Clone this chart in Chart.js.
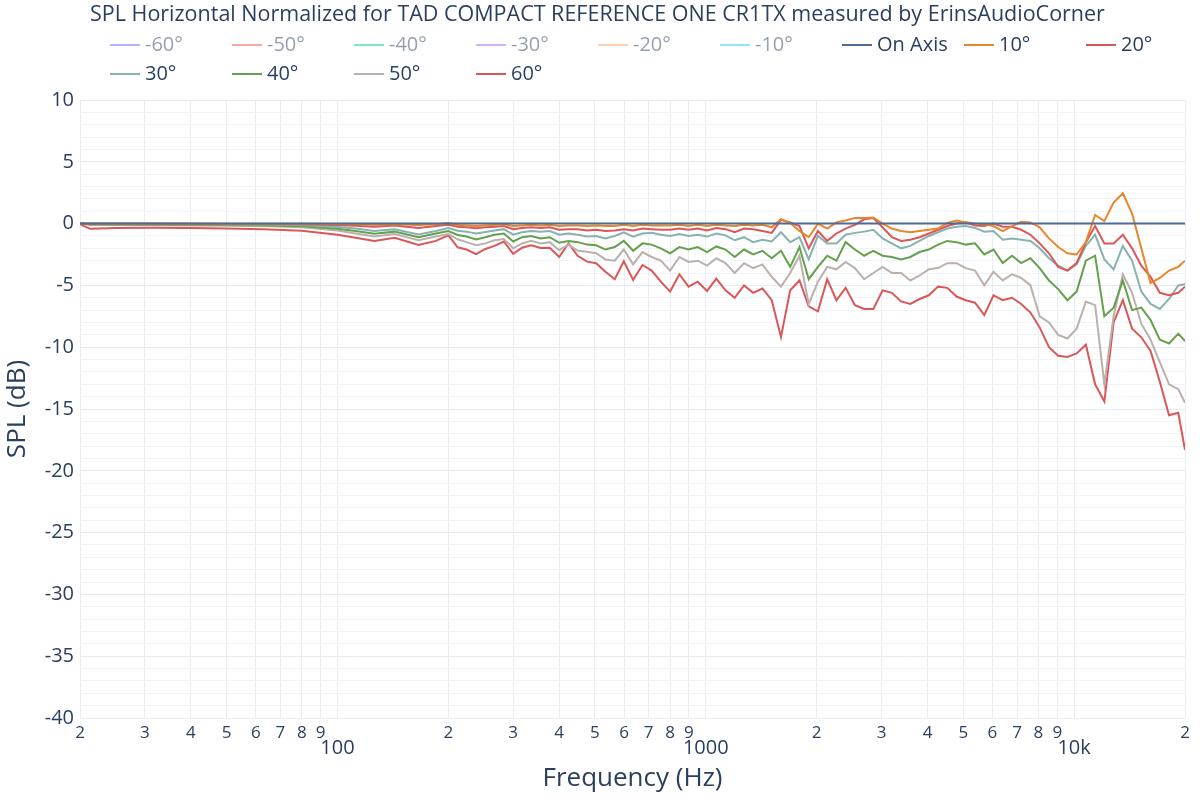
<!DOCTYPE html>
<html>
<head>
<meta charset="utf-8">
<script src="https://cdn.jsdelivr.net/npm/chart.js@4.4.0/dist/chart.umd.min.js"></script>
<style>
  html, body { margin: 0; padding: 0; background: #fff; }
  #wrap { width: 1200px; height: 800px; }
</style>
</head>
<body>
<div id="wrap"><canvas id="spl" width="1200" height="800"></canvas></div>
<script>
// frequencies (Hz) shared by every curve
const freqs = [20, 21.3, 25, 31.5, 40, 50, 63, 80, 100, 112, 126, 143, 166, 185,
  200, 212, 224, 238, 252, 267, 283, 300, 317, 336,
  356, 377, 400, 424, 449, 476, 504, 534, 566, 599,
  635, 673, 713, 755, 800, 848, 898, 951, 1008, 1068,
  1131, 1198, 1270, 1345, 1425, 1510, 1600, 1695, 1796, 1903,
  2016, 2136, 2263, 2397, 2540, 2691, 2851, 3020, 3200, 3390,
  3592, 3805, 4032, 4271, 4525, 4795, 5080, 5382, 5702, 6041,
  6400, 6781, 7184, 7611, 8063, 8543, 9051, 9589, 10159, 10763,
  11403, 12081, 12800, 13561, 14367, 15221, 16127, 17086, 18102, 19178, 20000];

const onAxis = [0, 0, 0, 0, 0, 0, 0, 0, 0, 0, 0, 0, 0, 0,
  0, 0, 0, 0, 0, 0, 0, 0, 0, 0,
  0, 0, 0, 0, 0, 0, 0, 0, 0, 0,
  0, 0, 0, 0, 0, 0, 0, 0, 0, 0,
  0, 0, 0, 0, 0, 0, 0, 0, 0, 0,
  0, 0, 0, 0, 0, 0, 0, 0, 0, 0,
  0, 0, 0, 0, 0, 0, 0, 0, 0, 0,
  0, 0, 0, 0, 0, 0, 0, 0, 0, 0,
  0, 0, 0, 0, 0, 0, 0, 0, 0, 0, 0];

const deg10 = [0, 0, 0, 0, 0, -0.01, -0.01, -0.02, -0.04, -0.06, -0.1, -0.05, -0.12, -0.05,
  0.05, -0.12, -0.15, -0.2, -0.15, -0.1, -0.05, -0.2, -0.15, -0.1,
  -0.15, -0.1, -0.2, -0.15, -0.15, -0.2, -0.15, -0.2, -0.2, -0.1,
  -0.2, -0.1, -0.15, -0.15, -0.15, -0.1, -0.2, -0.1, -0.2, -0.1,
  -0.15, -0.2, -0.1, -0.15, -0.1, -0.3, 0.35, 0.05, -0.6, -1.1,
  0.0, -0.4, 0.1, 0.25, 0.45, 0.45, 0.5, 0.0, -0.4, -0.6,
  -0.7, -0.6, -0.5, -0.4, 0.05, 0.25, 0.1, 0.0, -0.05, -0.2,
  -0.6, -0.2, 0.15, 0.1, -0.3, -1.2, -1.9, -2.4, -2.5, -1.5,
  0.7, 0.2, 1.7, 2.45, 0.8, -2.0, -4.8, -4.4, -3.8, -3.5, -3.0];

const deg20 = [0, -0.02, -0.02, -0.02, -0.03, -0.03, -0.04, -0.06, -0.12, -0.18, -0.25, -0.15, -0.35, -0.2,
  -0.1, -0.25, -0.3, -0.38, -0.3, -0.25, -0.2, -0.45, -0.35, -0.3,
  -0.35, -0.3, -0.5, -0.45, -0.45, -0.55, -0.5, -0.6, -0.55, -0.45,
  -0.55, -0.4, -0.45, -0.5, -0.5, -0.4, -0.5, -0.4, -0.55, -0.35,
  -0.45, -0.7, -0.4, -0.45, -0.6, -0.75, 0.3, 0.1, -0.2, -2.0,
  -0.6, -1.4, -0.8, -0.4, -0.1, 0.35, 0.45, -0.3, -1.1, -1.4,
  -1.3, -1.1, -0.8, -0.5, -0.2, 0.0, 0.1, -0.15, -0.2, 0.0,
  -0.25, -0.25, -0.5, -0.9, -1.6, -2.4, -3.5, -3.8, -3.2, -1.5,
  -0.2, -1.6, -1.6, -0.9, -2.0, -3.4, -4.3, -5.6, -5.8, -5.6, -5.1];

const deg30 = [0, -0.05, -0.05, -0.05, -0.06, -0.07, -0.08, -0.12, -0.27, -0.4, -0.6, -0.45, -0.88, -0.6,
  -0.35, -0.57, -0.65, -0.8, -0.68, -0.55, -0.45, -0.9, -0.7, -0.6,
  -0.65, -0.6, -0.9, -0.8, -0.9, -1.05, -1.0, -1.2, -1.0, -0.7,
  -1.05, -0.8, -0.75, -0.9, -1.0, -0.85, -1.0, -0.9, -1.05, -0.8,
  -0.95, -1.35, -1.1, -1.5, -1.3, -1.45, -0.7, -1.5, -1.1, -2.9,
  -1.0, -1.6, -1.6, -0.9, -0.75, -0.65, -0.5, -1.2, -1.6, -2.0,
  -1.8, -1.4, -1.0, -0.7, -0.4, -0.25, -0.2, -0.35, -0.65, -0.6,
  -1.3, -1.2, -1.3, -1.4, -2.0, -2.8, -3.4, -3.8, -3.3, -1.8,
  -0.9, -2.9, -3.7, -1.8, -3.0, -5.5, -6.5, -6.9, -6.1, -5.0, -4.9];

const deg40 = [0, -0.08, -0.08, -0.1, -0.1, -0.12, -0.15, -0.22, -0.42, -0.6, -0.82, -0.65, -1.1, -0.8,
  -0.6, -0.92, -1.05, -1.28, -1.1, -0.9, -0.8, -1.45, -1.1, -1.0,
  -1.2, -1.1, -1.55, -1.4, -1.5, -1.7, -1.75, -2.1, -1.9, -1.4,
  -2.2, -1.6, -1.7, -2.0, -2.4, -1.9, -2.1, -1.9, -2.3, -1.85,
  -2.1, -2.7, -2.1, -2.5, -2.2, -2.8, -2.2, -3.5, -1.9, -4.5,
  -3.5, -2.6, -3.0, -1.5, -2.1, -2.6, -2.2, -2.6, -2.7, -2.9,
  -2.7, -2.3, -2.1, -1.7, -1.4, -1.5, -1.7, -1.6, -2.5, -2.1,
  -3.2, -2.6, -3.2, -2.8, -3.6, -4.6, -5.3, -6.2, -5.5, -3.0,
  -2.6, -7.5, -6.8, -4.6, -7.0, -6.8, -7.8, -9.4, -9.7, -8.9, -9.5];

const deg50 = [0, -0.1, -0.12, -0.13, -0.15, -0.17, -0.2, -0.3, -0.55, -0.8, -1.05, -0.85, -1.35, -1.05,
  -0.85, -1.27, -1.5, -1.75, -1.6, -1.35, -1.25, -2.0, -1.6, -1.4,
  -1.6, -1.5, -2.15, -1.7, -2.2, -2.27, -2.4, -2.9, -3.0, -2.1,
  -3.3, -2.3, -2.7, -3.0, -3.8, -2.7, -3.1, -3.0, -3.4, -2.8,
  -3.2, -4.0, -3.2, -3.6, -3.3, -4.3, -5.1, -4.0, -2.6, -6.5,
  -4.7, -3.5, -3.7, -3.1, -3.6, -4.5, -4.0, -3.5, -4.0, -4.0,
  -4.6, -4.2, -3.7, -3.6, -3.2, -3.2, -3.6, -3.8, -5.0, -3.9,
  -4.6, -4.1, -4.4, -5.0, -7.5, -8.0, -9.0, -9.3, -8.5, -6.3,
  -6.6, -13.0, -7.5, -4.1, -5.6, -8.1, -9.4, -11.2, -13.0, -13.4, -14.5];

const deg60 = [-0.05, -0.42, -0.36, -0.33, -0.36, -0.4, -0.45, -0.58, -0.9, -1.15, -1.4, -1.15, -1.73, -1.4,
  -0.95, -1.92, -2.1, -2.47, -2.05, -1.8, -1.45, -2.45, -1.95, -1.75,
  -1.97, -1.95, -2.7, -1.6, -2.6, -3.08, -3.2, -3.9, -4.5, -3.05,
  -4.56, -3.35, -3.8, -4.7, -5.5, -4.1, -5.1, -4.7, -5.45, -4.45,
  -5.4, -6.0, -5.0, -5.6, -5.25, -6.2, -9.17, -5.4, -4.6, -6.7,
  -7.1, -4.5, -6.2, -5.2, -6.6, -6.9, -6.9, -5.4, -5.6, -6.3,
  -6.5, -6.1, -5.8, -5.1, -5.2, -5.9, -6.2, -6.4, -7.4, -5.8,
  -6.2, -6.0, -6.5, -7.2, -8.4, -10.0, -10.7, -10.8, -10.5, -9.8,
  -13.0, -14.4, -8.0, -6.2, -8.5, -9.2, -10.3, -12.8, -15.5, -15.3, -18.3];

const seriesNames = ['-60°', '-50°', '-40°', '-30°', '-20°', '-10°', 'On Axis', '10°', '20°', '30°', '40°', '50°', '60°'];
// negative angles are only listed in the legend (not drawn)
const seriesValues = [null, null, null, null, null, null, onAxis, deg10, deg20, deg30, deg40, deg50, deg60];
const seriesColors = ['#636efa', '#EF553B', '#00cc96', '#ab63fa', '#FFA15A', '#19d3f3',
  '#4C6A9C', '#E8862A', '#DB5757', '#86B3B0', '#65A04C', '#BAB0AC', '#DB5757'];

const xTicks = [20, 30, 40, 50, 60, 70, 80, 90, 100, 200, 300, 400, 500, 600, 700, 800, 900,
  1000, 2000, 3000, 4000, 5000, 6000, 7000, 8000, 9000, 10000, 20000];
const xMajor = { 100: '100', 1000: '1000', 10000: '10k' };
const yTicks = [];
for (let v = -40; v <= 10; v++) yTicks.push(v);

const title = 'SPL Horizontal Normalized for TAD COMPACT REFERENCE ONE CR1TX measured by ErinsAudioCorner';
const FONT = "'Open Sans', 'DejaVu Sans', sans-serif";
const TEXT = '#2a3f5f';

const datasets = seriesNames.map((name, i) => ({
  label: name,
  data: seriesValues[i] ? freqs.map((f, j) => ({ x: f, y: seriesValues[i][j] })) : [],
  borderColor: seriesColors[i],
  backgroundColor: seriesColors[i],
  hidden: !seriesValues[i],
}));

// title, legend, axis titles and the decade labels
const decorations = {
  id: 'decorations',
  afterDraw(chart) {
    const c = chart.ctx;
    c.save();
    c.textBaseline = 'middle';
    c.fillStyle = TEXT;
    c.font = '21.5px ' + FONT;
    c.textAlign = 'left';
    c.fillText(title, 90, 15);

    chart.data.datasets.forEach((ds, i) => {
      const col = i % 9, row = Math.floor(i / 9);
      const x0 = 110 + col * 122, y0 = 45 + row * 29;
      c.globalAlpha = ds.hidden ? 0.5 : 1;
      c.strokeStyle = ds.borderColor;
      c.lineWidth = 2;
      c.beginPath();
      c.moveTo(x0, y0);
      c.lineTo(x0 + 30, y0);
      c.stroke();
      c.fillStyle = TEXT;
      c.font = '20px ' + FONT;
      c.fillText(ds.label, x0 + 35, y0);
    });
    c.globalAlpha = 1;

    const xs = chart.scales.x;
    c.textAlign = 'center';
    c.font = '20px ' + FONT;
    Object.keys(xMajor).forEach(v => {
      c.fillText(xMajor[v], xs.getPixelForValue(Number(v)), 748);
    });

    c.font = '26px ' + FONT;
    c.fillText('Frequency (Hz)', (chart.chartArea.left + chart.chartArea.right) / 2, 779);
    c.translate(18, (chart.chartArea.top + chart.chartArea.bottom) / 2);
    c.rotate(-Math.PI / 2);
    c.fillText('SPL (dB)', 0, 0);
    c.restore();
  }
};

new Chart(document.getElementById('spl').getContext('2d'), {
  type: 'line',
  data: { datasets },
  options: {
    responsive: false,
    animation: false,
    layout: { padding: { left: 0, right: 15, top: 100, bottom: 0 } },
    plugins: { legend: { display: false }, title: { display: false }, tooltip: { enabled: false } },
    elements: { point: { radius: 0 }, line: { borderWidth: 2, tension: 0 } },
    scales: {
      x: {
        type: 'logarithmic', min: 20, max: 20000,
        afterBuildTicks: s => { s.ticks = xTicks.map(v => ({ value: v })); },
        afterFit: s => { s.height = 82; },
        grid: { color: '#e8edf5', drawTicks: false },
        border: { display: false },
        ticks: {
          autoSkip: false, maxRotation: 0, padding: 5, color: TEXT,
          font: { family: FONT, size: 17 },
          callback: v => (xMajor[v] ? '' : String(v).charAt(0)),
        },
      },
      y: {
        min: -40, max: 10,
        afterBuildTicks: s => { s.ticks = yTicks.map(v => ({ value: v })); },
        afterFit: s => { s.width = 80; },
        grid: { color: ctx => (ctx.tick && ctx.tick.value % 5 === 0 ? '#e6ebf3' : '#f0f3f9'), drawTicks: false },
        border: { display: false },
        ticks: {
          autoSkip: false, padding: 6, color: TEXT,
          font: { family: FONT, size: 20 },
          callback: v => (v % 5 === 0 ? String(v) : ''),
        },
      },
    },
  },
  plugins: [decorations],
});
</script>
</body>
</html>
